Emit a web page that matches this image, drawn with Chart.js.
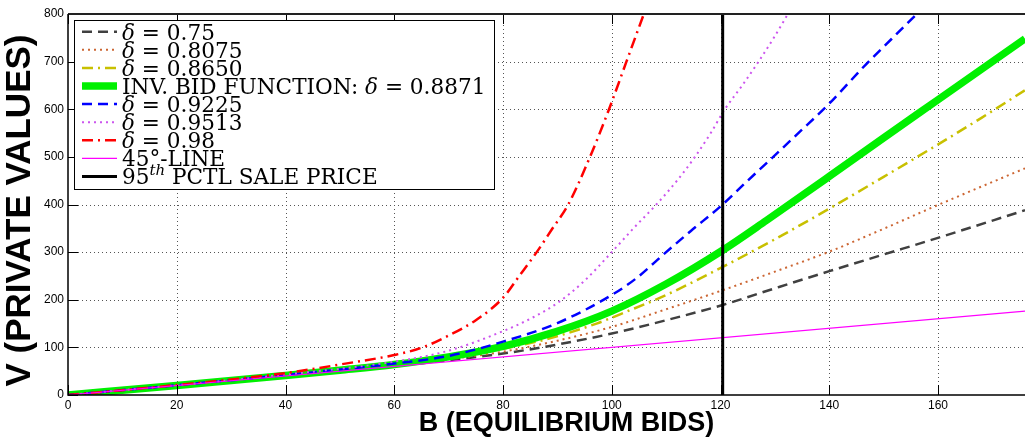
<!DOCTYPE html>
<html><head><meta charset="utf-8">
<script src="https://cdn.jsdelivr.net/npm/chart.js@4.4.1/dist/chart.umd.min.js"></script>
<style>html,body{margin:0;padding:0;background:#fff;}#wrap{width:1025px;height:442px;}</style>
</head><body><div id="wrap"><canvas id="c" width="1025" height="442"></canvas></div>
<script>
// ---- data ----
const xTicks = [0,20,40,60,80,100,120,140,160];
const yTicks = [0,100,200,300,400,500,600,700,800];
const xRange = [0,176];
const yRange = [0,800];
const xTitle = 'B (EQUILIBRIUM BIDS)';
const yTitle = 'V (PRIVATE VALUES)';
const seriesLabels = ['δ = 0.75','δ = 0.8075','δ = 0.8650','INV. BID FUNCTION: δ = 0.8871','δ = 0.9225','δ = 0.9513','δ = 0.98','45°-LINE','95th PCTL SALE PRICE'];

const B_0750 = [0,20,40,60,70,80,90,100,110,120.4,130,140,150,160,176];
const V_0750 = [0,20,40.5,61,73,87,106,129,157,189,224,260,295,330,388];
const B_08075 = [0,20,40,60,70,80,90,100,110,120.4,130,140,150,160,176];
const V_08075 = [0,20,41,62,75,91,114,143,180,220,259,301,349,399,476];
const B_08650 = [0,20,40,60,70,80,88.6,97.2,102.7,110,120.4,130,140.1,150,159.7,168,176];
const V_08650 = [0,20,41,63,78,97,119,150,175,210,269,327,392,458,524,582,640];
const B_08871 = [0,20,40,50,60,70,80,89.8,100,110,120.4,128.5,140,150,160,168,176];
const V_08871 = [0,20,41,52,64,80,102,133,176,233,304,367,459,540,620,684,748];
const B_09225 = [0,20,40,60,70,80,90,100,104.5,109.4,114.6,119.9,125,129.7,134.6,139.5,146.9,151.5,156.1];
const V_09225 = [0,20.5,42,66,82,112,151,210,245,294,345,395,450,500,553,606,696,748,800];
const B_09513 = [0,20,40,60,70,80,85,90,95,100,104,108.2,112,115.3,118.2,120.8,124,127,129.8,132.4];
const V_09513 = [0,20.5,43,70,93,134,160,193,240,300,350,400,450,500,550,600,650,700,750,800];
const B_098 = [0,20,40,50,60,65,70,75,80,83,86.2,89,92,96,99.5,102.7,105.9];
const V_098 = [0,21,46,64,84,99,125,157,204,250,300,348,400,500,600,700,800];
const B_45 = [0,176];
const V_45 = [0,176];
const B_pctl = [120.4,120.4];
const V_pctl = [0,800];

// ---- styles ----
const styles = [
  {color:'#404040', width:2.5, dash:[10,6]},
  {color:'rgb(204,102,51)', width:2, dash:[2,4]},
  {color:'#c8c000', width:2.5, dash:[11,5,2,5]},
  {color:'#00f000', width:7.5, dash:[]},
  {color:'#0000ff', width:2.5, dash:[10,6]},
  {color:'#cc55ee', width:2, dash:[2,4]},
  {color:'#ff0000', width:2.5, dash:[11,5,2,5]},
  {color:'#ff00ff', width:1.2, dash:[]},
  {color:'#000000', width:3, dash:[]}
];
const seriesB = [B_0750,B_08075,B_08650,B_08871,B_09225,B_09513,B_098,B_45,B_pctl];
const seriesV = [V_0750,V_08075,V_08650,V_08871,V_09225,V_09513,V_098,V_45,V_pctl];

const datasets = seriesLabels.map((lab,i)=>({
  label: lab,
  data: seriesB[i].map((b,k)=>({x:b,y:seriesV[i][k]})),
  borderColor: styles[i].color,
  backgroundColor: styles[i].color,
  borderWidth: styles[i].width,
  borderDash: styles[i].dash,
  borderCapStyle: 'butt',
  pointRadius: 0,
  showLine: true,
  fill: false,
  cubicInterpolationMode: 'monotone',
  order: seriesLabels.length - i
}));

const sansFamily = '"Liberation Sans", Arial, sans-serif';
const tickFont = {family:sansFamily, size:12};

function drawRich(ctx, label, x, baseline, size, draw){
  const m = label.match(/^(\d+)th (.*)$/);
  const segs = [];
  if (m){ segs.push({t:m[1],f:'normal'}); segs.push({t:'th',f:'italic',sup:true}); segs.push({t:' '+m[2],f:'normal'}); }
  else { label.split(/(δ)/).forEach(p=>{ if(p) segs.push({t:p,f:p==='δ'?'italic':'normal'}); }); }
  let cx = x;
  for (const s of segs){
    const fs = s.sup ? Math.round(size*0.68) : size;
    ctx.font = s.f + ' ' + fs + 'px "DejaVu Serif", serif';
    if (draw) ctx.fillText(s.t, cx, s.sup ? baseline - size*0.42 : baseline);
    cx += ctx.measureText(s.t).width;
  }
  return cx - x;
}

function dottedV(ctx, px, y0, y1){ for (let yy = y0; yy >= y1; yy -= 4) ctx.fillRect(px, yy, 1, 1); }
function dottedH(ctx, py, x0, x1){ for (let xx = x0; xx <= x1; xx += 4) ctx.fillRect(xx, py, 1, 1); }

const gridPlugin = {
  id:'dotGrid',
  beforeDatasetsDraw(chart){
    const {ctx, chartArea:a, scales:{x,y}} = chart;
    ctx.save();
    ctx.fillStyle = '#555';
    x.ticks.forEach(t=>{
      const px = Math.round(x.getPixelForValue(t.value));
      if (px <= a.left + 1) return;
      dottedV(ctx, px, Math.round(a.bottom) - 2, Math.round(a.top));
    });
    y.ticks.forEach(t=>{
      const py = Math.round(y.getPixelForValue(t.value));
      if (py >= a.bottom - 1 || py <= a.top + 1) return;
      dottedH(ctx, py, Math.round(a.left) + 2, Math.round(a.right));
    });
    ctx.restore();
  }
};

const axesPlugin = {
  id:'axesBox',
  afterDatasetsDraw(chart){
    const {ctx, chartArea:a, scales:{x,y}} = chart;
    ctx.save();
    ctx.strokeStyle = '#000';
    ctx.lineWidth = 1;
    ctx.beginPath();
    x.ticks.forEach(t=>{
      const px = Math.round(x.getPixelForValue(t.value)) + 0.5;
      ctx.moveTo(px, a.bottom); ctx.lineTo(px, a.bottom - 10);
      ctx.moveTo(px, a.top); ctx.lineTo(px, a.top + 10);
    });
    y.ticks.forEach(t=>{
      const py = Math.round(y.getPixelForValue(t.value)) + 0.5;
      ctx.moveTo(a.left, py); ctx.lineTo(a.left + 10, py);
    });
    ctx.stroke();
    ctx.lineWidth = 2; ctx.strokeStyle = '#222';
    ctx.beginPath(); ctx.moveTo(a.left, a.top); ctx.lineTo(a.right, a.top); ctx.stroke();
    ctx.lineWidth = 1.5; ctx.strokeStyle = '#000';
    ctx.beginPath(); ctx.moveTo(a.left, a.top); ctx.lineTo(a.left, a.bottom); ctx.lineTo(a.right, a.bottom); ctx.stroke();
    // axis titles
    ctx.fillStyle = '#000';
    ctx.textAlign = 'center'; ctx.textBaseline = 'middle';
    ctx.font = 'bold 27px ' + sansFamily;
    ctx.fillText(xTitle, (a.left + a.right)/2 + 20, a.bottom + 29);
    ctx.save();
    ctx.translate(20, (a.top + a.bottom)/2 + 6);
    ctx.rotate(-Math.PI/2);
    ctx.font = 'bold 35px ' + sansFamily;
    ctx.fillText(yTitle, 0, 0);
    ctx.restore();
    ctx.restore();
  }
};

const legendPlugin = {
  id:'mLegend',
  afterDraw(chart){
    const {ctx, chartArea:a} = chart;
    const size = 21.6, rowH = 18.1;
    const bx = a.left + 6, by = a.top + 6;
    const sampleX0 = bx + 8, sampleX1 = bx + 43, textX = bx + 48;
    ctx.save();
    let maxW = 0;
    chart.data.datasets.forEach(ds=>{ maxW = Math.max(maxW, drawRich(ctx, ds.label, 0, 0, size, false)); });
    const n = chart.data.datasets.length;
    const bw = (textX - bx) + maxW + 9;
    const bh = 11.7 + (n-1)*rowH + 12.3;
    ctx.fillStyle = '#fff';
    ctx.fillRect(bx, by, bw, bh);
    ctx.strokeStyle = '#000'; ctx.lineWidth = 1;
    ctx.strokeRect(Math.round(bx)+0.5, Math.round(by)+0.5, Math.round(bw), Math.round(bh));
    chart.data.datasets.forEach((ds,i)=>{
      const cy = by + 11.7 + i*rowH;
      ctx.save();
      ctx.strokeStyle = ds.borderColor; ctx.lineWidth = ds.borderWidth;
      ctx.setLineDash(ds.borderDash || []); ctx.lineCap = 'butt';
      ctx.beginPath(); ctx.moveTo(sampleX0, cy); ctx.lineTo(sampleX1, cy); ctx.stroke();
      ctx.restore();
      ctx.fillStyle = '#000'; ctx.textBaseline = 'alphabetic'; ctx.textAlign = 'left';
      drawRich(ctx, ds.label, textX, cy + 7.8, size, true);
    });
    ctx.restore();
  }
};

new Chart(document.getElementById('c'), {
  type:'scatter',
  data:{datasets},
  options:{
    responsive:false, animation:false,
    layout:{padding:{top:14,left:0,right:0,bottom:0}},
    plugins:{legend:{display:false}, tooltip:{enabled:false}},
    scales:{
      x:{type:'linear', min:xRange[0], max:xRange[1],
        afterBuildTicks:s=>{ s.ticks = xTicks.map(v=>({value:v})); },
        afterFit:s=>{ s.height = 47; },
        ticks:{font:tickFont, color:'#000', padding:3, maxRotation:0, autoSkip:false},
        grid:{display:false, drawTicks:false},
        border:{display:false},
        title:{display:false}
      },
      y:{type:'linear', min:yRange[0], max:yRange[1],
        afterBuildTicks:s=>{ s.ticks = yTicks.map(v=>({value:v})); },
        afterFit:s=>{ s.width = 68; },
        ticks:{font:tickFont, color:'#000', padding:4, autoSkip:false},
        grid:{display:false, drawTicks:false},
        border:{display:false},
        title:{display:false}
      }
    }
  },
  plugins:[gridPlugin, axesPlugin, legendPlugin]
});
</script>
</body></html>
